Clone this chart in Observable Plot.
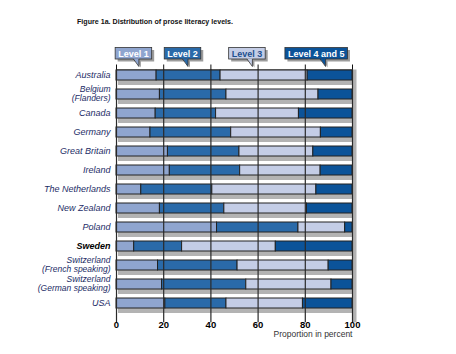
<!DOCTYPE html>
<html><head><meta charset="utf-8">
<script src="https://cdn.jsdelivr.net/npm/d3@7"></script>
<script src="https://cdn.jsdelivr.net/npm/@observablehq/plot@0.6"></script>
<style>
body{margin:0;background:#fff;}
#wrap{position:relative;width:456px;height:354px;overflow:hidden;}
#wrap svg{position:absolute;left:0;top:0;}
</style></head><body><div id="wrap"></div>
<script>
// ---- data ----
const countries = ["Australia","Belgium (Flanders)","Canada","Germany","Great Britain","Ireland","The Netherlands","New Zealand","Poland","Sweden","Switzerland (French speaking)","Switzerland (German speaking)","USA"];
const countryLabels = ["Australia","Belgium\n(Flanders)","Canada","Germany","Great Britain","Ireland","The Netherlands","New Zealand","Poland","Sweden","Switzerland\n(French speaking)","Switzerland\n(German speaking)","USA"];
const levels = ["Level 1","Level 2","Level 3","Level 4 and 5"];
const level1  = [17.0, 18.4, 16.6, 14.4, 21.8, 22.6, 10.5, 18.4, 42.6,  7.5, 17.6, 19.3, 20.7];
const level2  = [27.1, 28.2, 25.6, 34.2, 30.3, 29.8, 30.1, 27.3, 34.5, 20.3, 33.7, 35.7, 25.9];
const level3  = [36.9, 39.0, 35.1, 38.0, 31.3, 34.1, 44.1, 35.0, 19.8, 39.7, 38.6, 36.1, 32.4];
const level45 = [19.0, 14.4, 22.7, 13.4, 16.6, 13.5, 15.3, 19.3,  3.1, 32.5, 10.1,  8.9, 21.0];
const xTicks = [0, 20, 40, 60, 80, 100];
const highlighted = "Sweden";
const titleText = "Figure 1a. Distribution of prose literacy levels.";
const axisLabel = "Proportion in percent";

// ---- styles / layout ----
const levelColors = ["#8fa5cf", "#2a6aa9", "#c4cde6", "#0b5399"];
const levelTextColors = ["#ffffff", "#ffffff", "#1d4f8f", "#ffffff"];
const legendTips = [9.7, 30.5, 57.8, 88.8]; // where each callout points (x scale units)
const font = "'Liberation Sans', Arial, Helvetica, sans-serif";

const series = [level1, level2, level3, level45];
const rows = [];
countries.forEach((c, i) => series.forEach((s, j) => rows.push({country: c, level: levels[j], value: s[i]})));
const labelRows = countries.map((c, i) => ({country: c, label: countryLabels[i]}));
const single = labelRows.filter(d => d.country !== highlighted && !d.label.includes("\n"));
const double = labelRows.filter(d => d.label.includes("\n"));
const bold = labelRows.filter(d => d.country === highlighted);

const chart = Plot.plot({
  width: 456, height: 354,
  marginLeft: 116, marginRight: 104, marginTop: 69.5, marginBottom: 31.7,
  style: {fontFamily: font, background: "transparent", color: "#111"},
  x: {domain: [0, 100], axis: "top", ticks: xTicks, tickSize: 6, tickFormat: () => "", label: null, line: true},
  y: {domain: countries, axis: null, paddingInner: 0.468, paddingOuter: 0.134, align: 0},
  color: {domain: levels, range: levelColors},
  marks: [
    Plot.barX(countries, {y: d => d, x1: () => 0, x2: () => 100, fill: "#b3b3b3", dx: 2, dy: 5}),
    Plot.ruleX([100], {stroke: "#b3b3b3", strokeWidth: 4, dx: 2}),
    Plot.barX(rows, {y: "country", x: "value", fill: "level", stroke: "#222", strokeWidth: 1}),
    Plot.ruleX(xTicks, {stroke: "#2a2a2a", strokeWidth: 1.2}),
    Plot.text(single, {y: "country", text: "label", frameAnchor: "left", textAnchor: "end", dx: -6, fontSize: 9, fontStyle: "italic", fill: "#1c2c66"}),
    Plot.text(double, {y: "country", text: "label", frameAnchor: "left", textAnchor: "end", dx: -6, dy: -0.5, fontSize: 8.5, fontStyle: "italic", fill: "#1c2c66", lineHeight: 1.02}),
    Plot.text(bold, {y: "country", text: "label", frameAnchor: "left", textAnchor: "end", dx: -6, fontSize: 9, fontStyle: "italic", fontWeight: "bold", fill: "#000"}),
    Plot.text(xTicks, {x: d => d, frameAnchor: "bottom", dy: 5, fontSize: 9.5, fontWeight: "bold", fill: "#000"}),
    Plot.text([axisLabel], {frameAnchor: "bottom-right", textAnchor: "end", dy: 14.5, fontSize: 8.5, fill: "#333"})
  ]
});
const wrap = document.getElementById("wrap");
wrap.appendChild(chart);

// ---- overlay: title and callout legend ----
const xs = chart.scale("x");
const ov = d3.select(wrap).append("svg").attr("width", 456).attr("height", 354)
  .style("font-family", font).style("pointer-events", "none");

ov.append("text").attr("x", 77).attr("y", 23.5).attr("font-size", 7).attr("font-weight", "bold")
  .attr("fill", "#111").attr("textLength", 156).attr("lengthAdjust", "spacingAndGlyphs").text(titleText);

const boxY = 47.5, boxH = 11.5, tipY = 66.5;
levels.forEach((lv, i) => {
  const tipX = xs.apply(legendTips[i]);
  const g = ov.append("g");
  const t = g.append("text").attr("font-size", 9).attr("font-weight", "bold").attr("text-anchor", "middle").text(lv);
  const w = t.node().getComputedTextLength() + 6;
  const bx = tipX - 0.65 * w;
  const bb = boxY + boxH;
  g.insert("rect", "text").attr("x", bx + 2.5).attr("y", boxY + 2.5).attr("width", w).attr("height", boxH).attr("fill", "#9c9c9c");
  g.insert("path", "text").attr("d", `M${tipX - 5.5 + 2},${bb} L${tipX + 2},${tipY + 1} L${tipX + 2},${bb}Z`).attr("fill", "#9c9c9c");
  g.insert("rect", "text").attr("x", bx).attr("y", boxY).attr("width", w).attr("height", boxH)
    .attr("fill", levelColors[i]).attr("stroke", "#333").attr("stroke-width", 0.8);
  g.insert("path", "text").attr("d", `M${tipX - 5.5},${bb - 0.6} L${tipX},${tipY} L${tipX},${bb - 0.6}Z`).attr("fill", levelColors[i]);
  g.insert("path", "text").attr("d", `M${tipX - 5.5},${bb} L${tipX},${tipY} L${tipX},${bb}`).attr("fill", "none").attr("stroke", "#333").attr("stroke-width", 0.8);
  t.attr("x", bx + w / 2).attr("y", boxY + boxH / 2 + 3.3).attr("fill", levelTextColors[i]);
});
</script>
</body></html>
